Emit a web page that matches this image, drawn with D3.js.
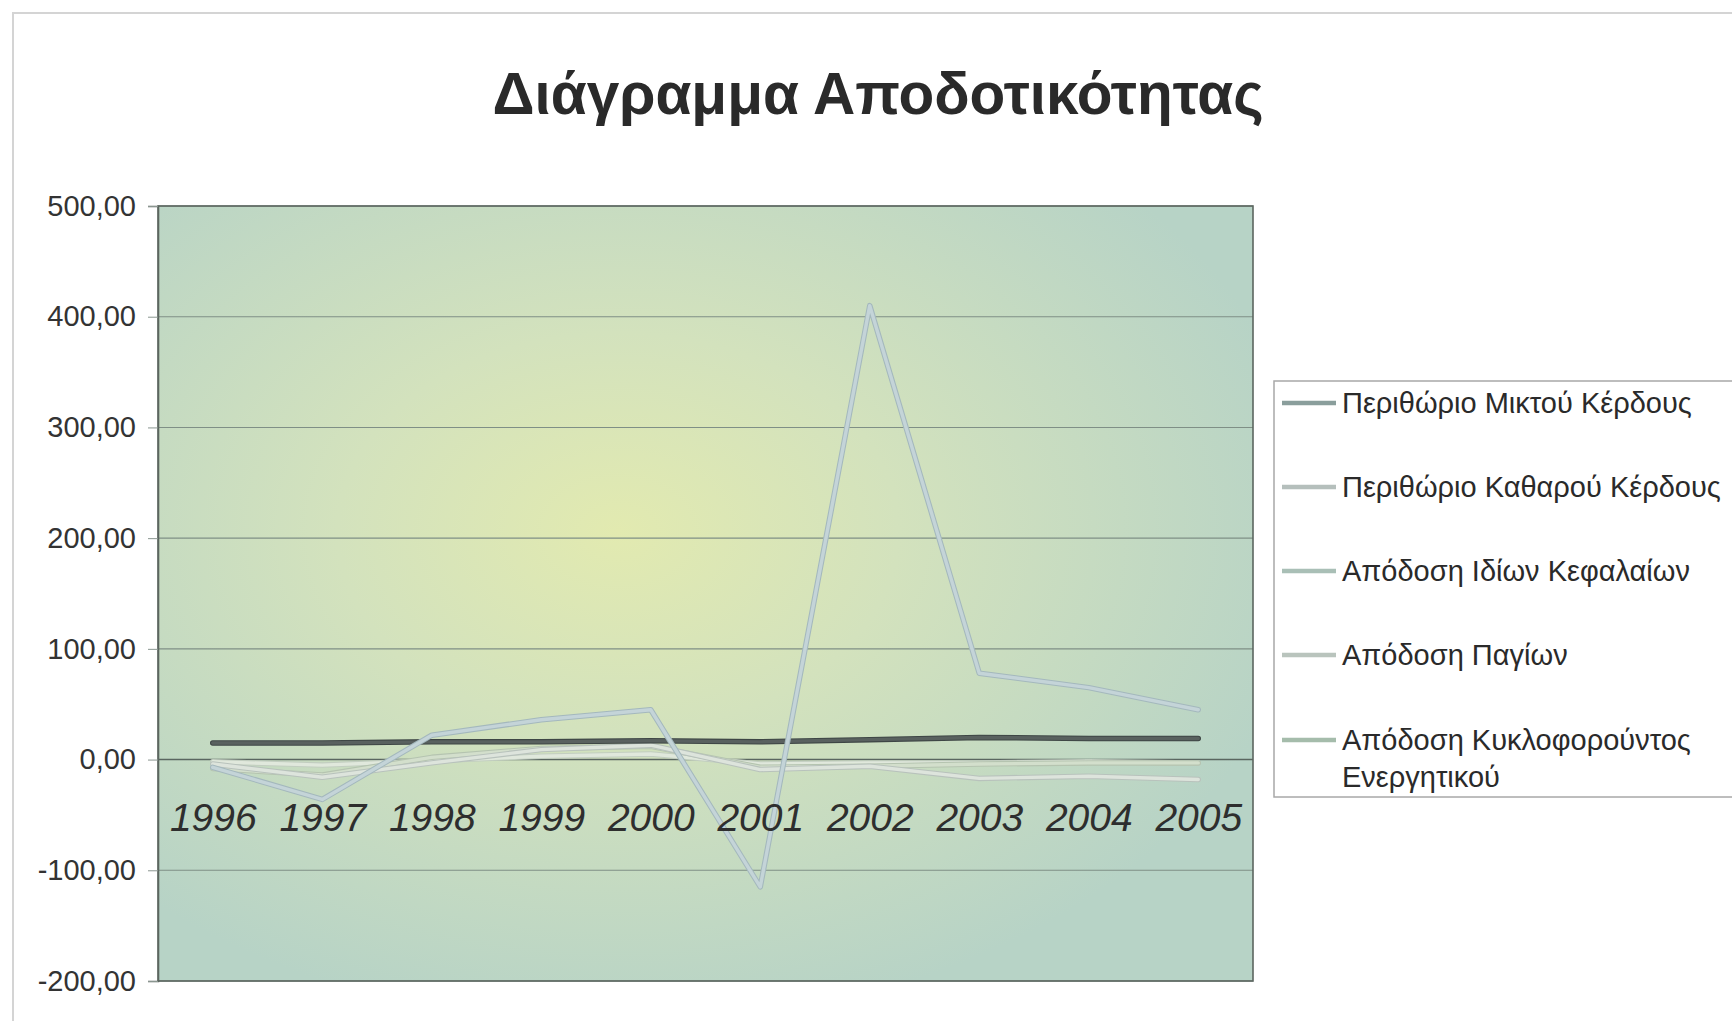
<!DOCTYPE html>
<html>
<head>
<meta charset="utf-8">
<script src="https://cdn.jsdelivr.net/npm/d3@7"></script>
<style>
  html, body { margin: 0; padding: 0; background: #ffffff; }
  svg { display: block; }
  text { font-family: "Liberation Sans", Arial, sans-serif; }
</style>
</head>
<body>
<svg id="chart" width="1732" height="1021"></svg>
<script>
// ---- data ----
const chartTitle = "Διάγραμμα Αποδοτικότητας";
const years = ["1996", "1997", "1998", "1999", "2000", "2001", "2002", "2003", "2004", "2005"];
const seriesNames = [
  "Περιθώριο Μικτού Κέρδους",
  "Περιθώριο Καθαρού Κέρδους",
  "Απόδοση Ιδίων Κεφαλαίων",
  "Απόδοση Παγίων",
  "Απόδοση Κυκλοφορούντος Ενεργητικού"
];
const grossMargin   = [15, 15, 16, 16, 17, 16, 18, 20, 19, 19];
const netMargin     = [-4, -16, -3, 9, 13, -9, -6, -17, -15, -18];
const returnEquity  = [-7, -36, 22, 36, 45, -115, 410, 78, 65, 45];
const returnFixed   = [-2, -5, -1, 3, 5, -4, -3, -3, -2, -3];
const returnCurrent = [-8, -14, 2, 10, 12, -7, -6, -4, -3, -3];
const yTickValues = [-200, -100, 0, 100, 200, 300, 400, 500];

const seriesValues = [grossMargin, netMargin, returnEquity, returnFixed, returnCurrent];
const lineColors   = ["#59615f", "#dde4dc", "#c4d4d8", "#e0e8dc", "#d3dfcc"];
const lineCasing   = ["#3e4645", "#b8c2bc", "#a4b8bd", "#c2cec0", "#b5c4b0"];
const legendColors = ["#8a9e9c", "#b5bfbc", "#a9bfb6", "#b9c4bd", "#a5bcab"];

// ---- layout ----
const svg = d3.select("#chart");
const plot = { left: 158, right: 1253, top: 206, bottom: 981 };

const x = d3.scalePoint().domain(years).range([plot.left, plot.right]).padding(0.5);
const y = d3.scaleLinear().domain([-200, 500]).range([plot.bottom, plot.top]);

// outer chart frame
svg.append("rect").attr("x", 13).attr("y", 13).attr("width", 1760).attr("height", 1040)
  .attr("fill", "none").attr("stroke", "#d4d4d4").attr("stroke-width", 2);

// background gradient
const defs = svg.append("defs");
const grad = defs.append("radialGradient").attr("id", "bg")
  .attr("cx", 0.42).attr("cy", 0.42).attr("r", 0.64);
grad.append("stop").attr("offset", "0%").attr("stop-color", "#e2eab0");
grad.append("stop").attr("offset", "40%").attr("stop-color", "#d3e2bd");
grad.append("stop").attr("offset", "100%").attr("stop-color", "#b7d3c6");

svg.append("rect")
  .attr("x", plot.left).attr("y", plot.top)
  .attr("width", plot.right - plot.left).attr("height", plot.bottom - plot.top)
  .attr("fill", "url(#bg)");

// gridlines
svg.append("g").selectAll("line").data(yTickValues).join("line")
  .attr("x1", plot.left).attr("x2", plot.right)
  .attr("y1", d => y(d)).attr("y2", d => y(d))
  .attr("stroke", d => d === 0 ? "#5a6660" : "#7f8f86")
  .attr("stroke-width", d => d === 0 ? 1.6 : 1.1);

// plot border
svg.append("rect")
  .attr("x", plot.left).attr("y", plot.top)
  .attr("width", plot.right - plot.left).attr("height", plot.bottom - plot.top)
  .attr("fill", "none").attr("stroke", "#5c6660").attr("stroke-width", 1.6);

// y axis
const fmt = v => v.toFixed(2).replace(".", ",");
const yAxis = svg.append("g").attr("transform", `translate(${plot.left},0)`)
  .call(d3.axisLeft(y).tickValues(yTickValues).tickFormat(fmt).tickSize(10).tickPadding(12));
yAxis.select(".domain").attr("stroke", "#5c6660").attr("stroke-width", 1.6);
yAxis.selectAll(".tick line").attr("stroke", "#8a9690");
yAxis.selectAll("text").attr("font-size", 29).attr("fill", "#333")
  .attr("font-family", "'Liberation Sans', Arial, sans-serif");

// lines
const line = d3.line().x((d, i) => x(years[i])).y(d => y(d));
const gLines = svg.append("g");
const order = [3, 4, 1, 0, 2];
order.forEach(s => {
  gLines.append("path").datum(seriesValues[s])
    .attr("d", line).attr("fill", "none")
    .attr("stroke", lineCasing[s]).attr("stroke-width", 5.5)
    .attr("stroke-linejoin", "round").attr("stroke-linecap", "round");
  gLines.append("path").datum(seriesValues[s])
    .attr("d", line).attr("fill", "none")
    .attr("stroke", lineColors[s]).attr("stroke-width", 3.4)
    .attr("stroke-linejoin", "round").attr("stroke-linecap", "round");
});

// x axis labels (placed next to the zero line)
const xAxis = svg.append("g").attr("transform", `translate(0,${y(0)})`)
  .call(d3.axisBottom(x).tickSize(0).tickPadding(44));
xAxis.select(".domain").remove();
xAxis.selectAll("text").attr("font-size", 39).attr("font-style", "italic")
  .attr("fill", "#2e2e2e").attr("font-family", "'Liberation Sans', Arial, sans-serif");

// title
svg.append("text").attr("x", 878).attr("y", 114).attr("text-anchor", "middle")
  .attr("font-size", 58.5).attr("font-weight", "bold").attr("fill", "#2a2a2a")
  .text(chartTitle);

// legend
const lg = svg.append("g");
lg.append("rect").attr("x", 1274).attr("y", 381).attr("width", 520).attr("height", 416)
  .attr("fill", "#ffffff").attr("stroke", "#a8a8a8").attr("stroke-width", 1.5);
const legendY = [403, 487, 571, 655, 740];
seriesNames.forEach((name, i) => {
  const yy = legendY[i];
  lg.append("line").attr("x1", 1282).attr("x2", 1336).attr("y1", yy).attr("y2", yy)
    .attr("stroke", legendColors[i]).attr("stroke-width", 4.5);
  const t = lg.append("text").attr("x", 1342).attr("y", yy + 10)
    .attr("font-size", 29).attr("fill", "#2a2a2a");
  if (i === 4) {
    t.append("tspan").attr("x", 1342).text("Απόδοση Κυκλοφορούντος");
    t.append("tspan").attr("x", 1342).attr("dy", 37).text("Ενεργητικού");
  } else {
    t.text(name);
  }
});
</script>
</body>
</html>
